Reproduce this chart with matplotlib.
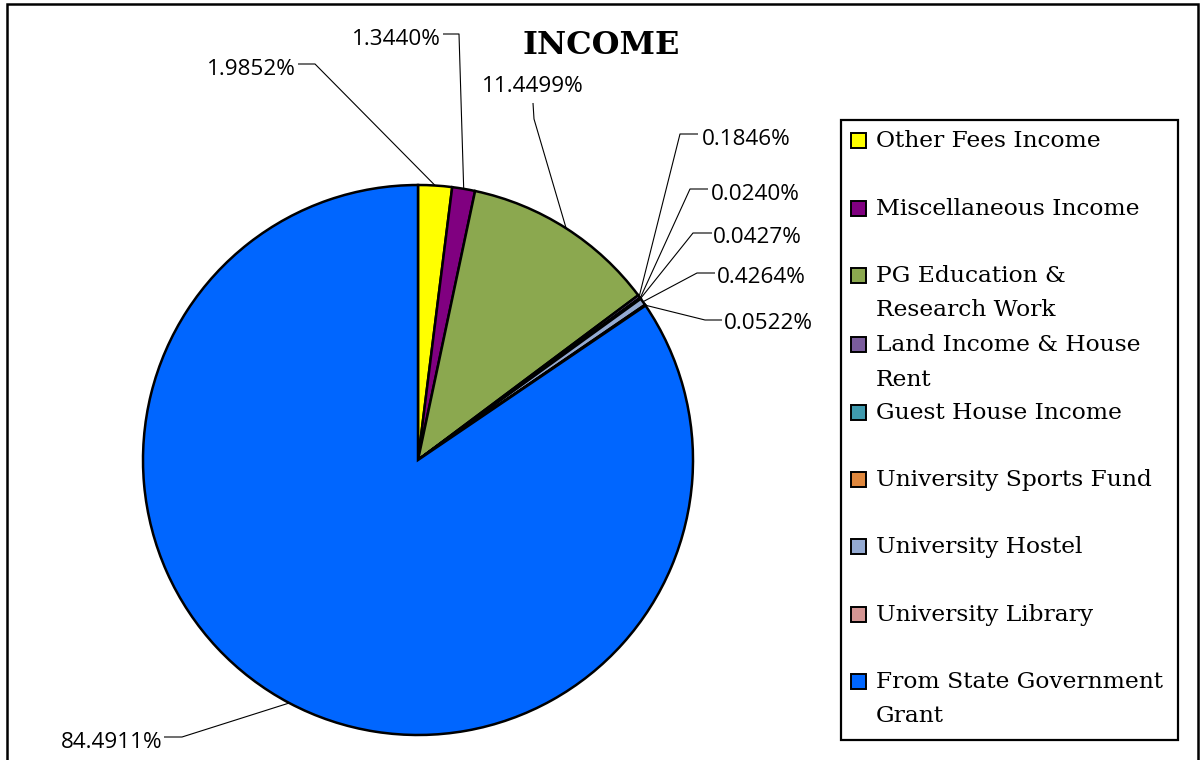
import matplotlib
matplotlib.use("Agg")
import matplotlib.pyplot as plt
from matplotlib.patches import Rectangle
import numpy as np

# ---- data ----
categories = ["Other Fees Income", "Miscellaneous Income", "PG Education &\nResearch Work",
              "Land Income & House\nRent", "Guest House Income", "University Sports Fund",
              "University Hostel", "University Library", "From State Government\nGrant"]
values = [1.9852, 1.3440, 11.4499, 0.1846, 0.0240, 0.0427, 0.4264, 0.0522, 84.4911]
pct_labels = ["1.9852%", "1.3440%", "11.4499%", "0.1846%", "0.0240%", "0.0427%",
              "0.4264%", "0.0522%", "84.4911%"]
colors = ["#FFFF00", "#800080", "#8BA84F", "#7A5C9C", "#3F9AAE", "#E0883E",
          "#94AAD2", "#D49593", "#0066FF"]
title = "INCOME"

W, H = 1200, 760
fig = plt.figure(figsize=(W / 100, H / 100), dpi=100)
ax = fig.add_axes([0, 0, 1, 1])

def Y(y):  # pixel (top-down) to data y
    return H - y

cx, cy, R = 418, Y(460), 275
wedges, _ = ax.pie(values, colors=colors, startangle=90, counterclock=False,
                   center=(cx, cy), radius=R,
                   wedgeprops=dict(edgecolor="black", linewidth=1.8))
ax.set_xlim(0, W)
ax.set_ylim(0, H)
ax.set_aspect("auto")
ax.axis("off")

# label layout: (text x, baseline y, ha, polyline points from elbow to text end)
layout = [
    (296, 75, "right", [(315, 64), (298, 64)]),
    (441, 45, "right", [(459, 34), (443, 34)]),
    (533, 92, "center", [(534, 119), (533, 103)]),
    (702, 145, "left", [(680, 134), (698, 134)]),
    (711, 200, "left", [(690, 189), (708, 189)]),
    (713, 243, "left", [(693, 233), (712, 233)]),
    (717, 283, "left", [(697, 273), (715, 273)]),
    (724, 329, "left", [(705, 320), (722, 320)]),
    (163, 748, "right", [(182, 737), (164, 737)]),
]

for w, lab, (tx, ty, ha, pts) in zip(wedges, pct_labels, layout):
    th = np.deg2rad((w.theta1 + w.theta2) / 2)
    ax_ = cx + R * np.cos(th)
    ay_ = cy + R * np.sin(th)
    xs = [ax_] + [p[0] for p in pts]
    ys = [ay_] + [Y(p[1]) for p in pts]
    ax.plot(xs, ys, color="black", lw=0.8, solid_capstyle="butt")
    ax.text(tx, Y(ty), lab, ha=ha, va="baseline", fontsize=16.2,
            family="Open Sans", color="black")

ax.text(601, Y(54), title, ha="center", va="baseline", fontsize=23,
        family="DejaVu Serif", fontweight="bold", color="black")

# outer frame
ax.add_patch(Rectangle((7, Y(766)), 1191, 762, fill=False, edgecolor="black",
                       lw=1.8, clip_on=False))
# legend box
ax.add_patch(Rectangle((841, Y(740)), 337, 620, fill=False, edgecolor="black", lw=1.6))

baselines = [147, 215, 282, 351, 419, 486, 553, 621, 688]
for cat, col, b in zip(categories, colors, baselines):
    ax.add_patch(Rectangle((851, Y(b - 7) - 7.5), 15, 15, facecolor=col,
                           edgecolor="black", lw=1.4))
    for i, line in enumerate(cat.split("\n")):
        ax.text(876, Y(b + i * 34.5), line, ha="left", va="baseline",
                fontsize=16.8, family="DejaVu Serif", color="black")

fig.savefig("out.png", dpi=100)
